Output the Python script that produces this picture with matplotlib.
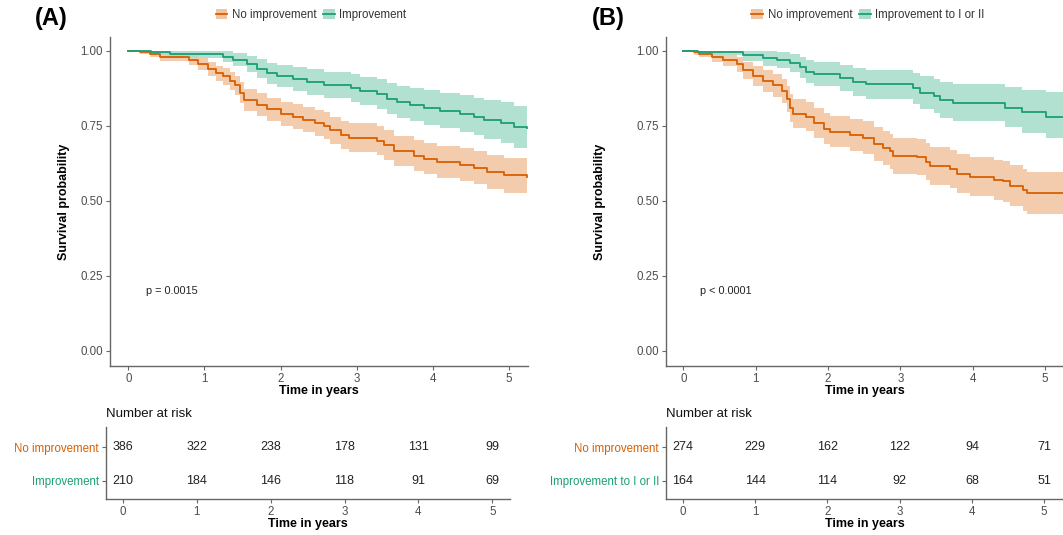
import matplotlib
matplotlib.use("Agg")
import matplotlib.pyplot as plt
from matplotlib.patches import Patch
from matplotlib.lines import Line2D

plt.rcParams["font.family"] = ["Liberation Sans", "DejaVu Sans"]

ORANGE, GREEN = "#D95F02", "#1B9E77"
ORANGE_FILL, GREEN_FILL = "#F2C3A0", "#A6DCC9"
AXIS, TICKTXT = "#666666", "#4D4D4D"

# --- panel A: survival curves (step points, estimate, lower CI, upper CI) ---
a_no_t = [0, 0.15, 0.28, 0.42, 0.80, 0.92, 1.05, 1.15, 1.25, 1.33, 1.40, 1.47, 1.52, 1.69,
          1.82, 2.00, 2.17, 2.30, 2.45, 2.57, 2.65, 2.80, 2.90, 3.27, 3.36, 3.49, 3.75, 3.88,
          4.06, 4.36, 4.54, 4.71, 4.93, 5.24]
a_no_s = [1.000, 0.995, 0.990, 0.980, 0.970, 0.955, 0.940, 0.925, 0.915, 0.900, 0.885, 0.860,
          0.835, 0.820, 0.805, 0.790, 0.780, 0.770, 0.760, 0.750, 0.735, 0.720, 0.710, 0.700,
          0.685, 0.665, 0.650, 0.640, 0.630, 0.620, 0.610, 0.595, 0.585, 0.578]
a_no_lo = [1.000, 0.988, 0.980, 0.966, 0.953, 0.935, 0.917, 0.899, 0.887, 0.870, 0.853, 0.826,
           0.799, 0.783, 0.766, 0.750, 0.739, 0.728, 0.717, 0.706, 0.690, 0.674, 0.663, 0.652,
           0.636, 0.615, 0.599, 0.588, 0.577, 0.566, 0.555, 0.538, 0.527, 0.520]
a_no_hi = [1.000, 1.000, 1.000, 0.994, 0.987, 0.975, 0.963, 0.951, 0.943, 0.930, 0.917, 0.895,
           0.872, 0.858, 0.844, 0.831, 0.822, 0.813, 0.804, 0.795, 0.781, 0.767, 0.758, 0.749,
           0.735, 0.716, 0.702, 0.693, 0.684, 0.675, 0.666, 0.653, 0.644, 0.640]

a_imp_t = [0, 0.30, 0.55, 1.25, 1.38, 1.56, 1.69, 1.82, 1.95, 2.17, 2.35, 2.57, 2.92, 3.05,
           3.27, 3.40, 3.53, 3.70, 3.88, 4.10, 4.36, 4.54, 4.67, 4.89, 5.06, 5.24]
a_imp_s = [1.000, 0.995, 0.990, 0.980, 0.970, 0.955, 0.940, 0.925, 0.915, 0.905, 0.895, 0.885,
           0.875, 0.865, 0.855, 0.840, 0.830, 0.820, 0.810, 0.800, 0.790, 0.780, 0.770, 0.760,
           0.745, 0.742]
a_imp_lo = [1.000, 0.986, 0.977, 0.962, 0.948, 0.928, 0.909, 0.890, 0.878, 0.866, 0.854, 0.842,
            0.830, 0.818, 0.806, 0.789, 0.777, 0.765, 0.754, 0.742, 0.730, 0.718, 0.706, 0.694,
            0.676, 0.672]
a_imp_hi = [1.000, 1.000, 1.000, 0.998, 0.992, 0.983, 0.972, 0.961, 0.953, 0.946, 0.938, 0.930,
            0.922, 0.914, 0.906, 0.893, 0.884, 0.876, 0.868, 0.860, 0.852, 0.844, 0.836, 0.828,
            0.817, 0.815]

# --- panel B ---
b_no_t = [0, 0.15, 0.22, 0.40, 0.55, 0.74, 0.83, 0.97, 1.10, 1.24, 1.36, 1.43, 1.47, 1.52,
          1.70, 1.80, 1.94, 2.03, 2.30, 2.49, 2.63, 2.76, 2.86, 2.90, 3.23, 3.36, 3.41, 3.69,
          3.78, 3.96, 4.29, 4.42, 4.52, 4.70, 4.75, 5.26]
b_no_s = [1.000, 0.995, 0.990, 0.980, 0.970, 0.955, 0.935, 0.915, 0.900, 0.885, 0.865, 0.840,
          0.810, 0.790, 0.780, 0.760, 0.740, 0.730, 0.720, 0.710, 0.690, 0.675, 0.665, 0.650,
          0.645, 0.630, 0.615, 0.605, 0.590, 0.580, 0.570, 0.565, 0.550, 0.535, 0.525, 0.522]
b_no_lo = [1.000, 0.987, 0.978, 0.963, 0.950, 0.930, 0.906, 0.882, 0.864, 0.847, 0.825, 0.797,
           0.764, 0.743, 0.732, 0.710, 0.689, 0.678, 0.667, 0.656, 0.634, 0.618, 0.607, 0.591,
           0.585, 0.569, 0.553, 0.542, 0.526, 0.515, 0.504, 0.498, 0.482, 0.466, 0.455, 0.452]
b_no_hi = [1.000, 1.000, 1.000, 0.997, 0.990, 0.980, 0.964, 0.948, 0.936, 0.923, 0.906, 0.883,
           0.856, 0.838, 0.829, 0.810, 0.792, 0.783, 0.774, 0.765, 0.747, 0.733, 0.724, 0.710,
           0.706, 0.692, 0.678, 0.669, 0.655, 0.646, 0.637, 0.633, 0.619, 0.605, 0.596, 0.593]

b_imp_t = [0, 0.20, 0.83, 1.10, 1.29, 1.47, 1.61, 1.70, 1.80, 2.17, 2.35, 2.53, 3.18, 3.27,
           3.46, 3.55, 3.73, 4.45, 4.68, 5.02, 5.26]
b_imp_s = [1.000, 0.995, 0.985, 0.975, 0.970, 0.960, 0.945, 0.930, 0.922, 0.910, 0.895, 0.888,
           0.875, 0.860, 0.850, 0.835, 0.826, 0.810, 0.795, 0.780, 0.780]
b_imp_lo = [1.000, 0.985, 0.966, 0.951, 0.944, 0.930, 0.911, 0.892, 0.882, 0.867, 0.849, 0.840,
            0.824, 0.806, 0.794, 0.776, 0.765, 0.745, 0.727, 0.709, 0.709]
b_imp_hi = [1.000, 1.000, 1.000, 0.999, 0.996, 0.990, 0.980, 0.969, 0.963, 0.954, 0.942, 0.936,
            0.927, 0.915, 0.907, 0.895, 0.888, 0.880, 0.868, 0.862, 0.862]

# --- number at risk ---
risk_times = [0, 1, 2, 3, 4, 5]
a_no_risk = [386, 322, 238, 178, 131, 99]
a_imp_risk = [210, 184, 146, 118, 91, 69]
b_no_risk = [274, 229, 162, 122, 94, 71]
b_imp_risk = [164, 144, 114, 92, 68, 51]

a_labels = ["No improvement", "Improvement"]
b_labels = ["No improvement", "Improvement to I or II"]

W, H = 1063, 535
fig = plt.figure(figsize=(W / 100, H / 100), dpi=100)


def box(left, top, right, bottom):
    return [left / W, 1 - bottom / H, (right - left) / W, (bottom - top) / H]


def style(ax):
    for s in ["top", "right"]:
        ax.spines[s].set_visible(False)
    for s in ["left", "bottom"]:
        ax.spines[s].set_color(AXIS)
        ax.spines[s].set_linewidth(1.0)
    ax.tick_params(colors=AXIS, labelcolor=TICKTXT, labelsize=8.3, length=3, width=0.8, pad=2)


def km_panel(ax, curves, pval, ylab_x):
    for t, s, lo, hi, col, fill in curves:
        ax.fill_between(t, lo, hi, step="post", color=fill, alpha=0.85, lw=0)
        ax.step(t, s, where="post", color=col, lw=1.3)
    ax.set_xlim(-0.24, 5.25)
    ax.set_ylim(-0.05, 1.046)
    ax.set_xticks(risk_times)
    ax.set_yticks([0, 0.25, 0.5, 0.75, 1.0])
    ax.set_yticklabels(["0.00", "0.25", "0.50", "0.75", "1.00"])
    ax.set_xlabel("Time in years", fontsize=9, fontweight="bold", labelpad=0)
    ax.set_ylabel("Survival probability", fontsize=9, fontweight="bold")
    ax.yaxis.set_label_coords(ylab_x, 0.5)
    ax.text(0.23, 0.2, pval, fontsize=7.8, va="center", ha="left", color="#222222")
    style(ax)


def risk_panel(ax, rows, labels, xlim):
    for yy, vals in zip([2, 1], rows):
        for x, v in zip(risk_times, vals):
            ax.text(x, yy, str(v), ha="center", va="center", fontsize=9, color="#222222")
    ax.set_xlim(*xlim)
    ax.set_ylim(0.47, 2.59)
    ax.set_xticks(risk_times)
    ax.set_yticks([2, 1])
    ax.set_yticklabels(labels)
    ax.set_xlabel("Time in years", fontsize=9, fontweight="bold", labelpad=0)
    ax.text(0, 1.18, "Number at risk", transform=ax.transAxes, fontsize=9.5,
            ha="left", va="center", color="#111111")
    style(ax)
    ax.tick_params(axis="y", labelsize=8.3)
    for lab, col in zip(ax.get_yticklabels(), [ORANGE, GREEN]):
        lab.set_color(col)


def legend(labels, cx):
    handles = [(Patch(facecolor=ORANGE_FILL, edgecolor="none"), Line2D([], [], color=ORANGE, lw=1.3)),
               (Patch(facecolor=GREEN_FILL, edgecolor="none"), Line2D([], [], color=GREEN, lw=1.3))]
    fig.legend(handles, labels, loc="center", bbox_to_anchor=(cx / W, 1 - 15 / H), ncol=2,
               frameon=False, fontsize=8.3, handlelength=1.0, handleheight=0.9,
               handletextpad=0.4, columnspacing=0.6, labelcolor="#333333")


axA = fig.add_axes(box(110, 37, 528, 366))
km_panel(axA, [(a_no_t, a_no_s, a_no_lo, a_no_hi, ORANGE, ORANGE_FILL),
               (a_imp_t, a_imp_s, a_imp_lo, a_imp_hi, GREEN, GREEN_FILL)], "p = 0.0015", -0.096)
axB = fig.add_axes(box(666, 37, 1063, 366))
km_panel(axB, [(b_no_t, b_no_s, b_no_lo, b_no_hi, ORANGE, ORANGE_FILL),
               (b_imp_t, b_imp_s, b_imp_lo, b_imp_hi, GREEN, GREEN_FILL)], "p < 0.0001", -0.15)

rA = fig.add_axes(box(106, 427, 510, 499))
risk_panel(rA, [a_no_risk, a_imp_risk], a_labels, (-0.23, 5.24))
rB = fig.add_axes(box(666, 427, 1063, 499))
risk_panel(rB, [b_no_risk, b_imp_risk], b_labels, (-0.235, 5.26))

legend(a_labels, 311)
legend(b_labels, 868)
fig.text(35 / W, 1 - 19 / H, "(A)", fontsize=17, fontweight="bold", ha="left", va="center")
fig.text(592 / W, 1 - 19 / H, "(B)", fontsize=17, fontweight="bold", ha="left", va="center")

fig.savefig("out.png", dpi=100, facecolor="white")
